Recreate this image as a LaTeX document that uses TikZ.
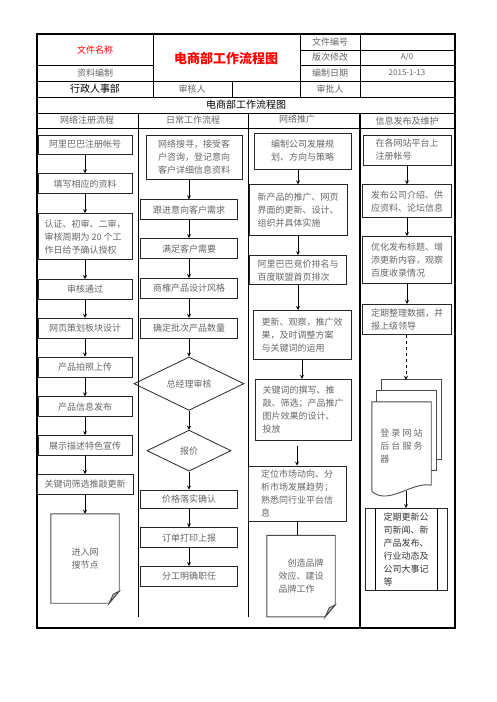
\documentclass[tikz,border=0pt]{standalone}
\usepackage{fontspec}
\setmainfont{Noto Sans CJK SC}
\usepackage{xcolor}
\usepackage{tikz}
\usetikzlibrary{shapes.geometric, arrows, positioning, calc}

\begin{document}
\begin{tikzpicture}[
    x=1pt, y=-1pt,
    node distance=19pt,
    box/.style={draw=black!85, line width=0.8pt, rectangle, minimum height=20pt,
      minimum width=94pt, align=left, inner sep=2pt, text=black!60,
      font=\fontsize{9}{13}\selectfont},
    dec/.style={draw=black!85, line width=0.8pt, diamond, inner sep=0pt,
      text=black!60, font=\fontsize{9}{13}\selectfont},
    doc/.style={align=left, inner sep=2pt, text=black!60, font=\fontsize{9}{13}\selectfont},
    docline/.style={draw=black!70, line width=0.9pt},
    head/.style={text=black!60, font=\fontsize{9}{11}\selectfont},
    thinrule/.style={line width=0.8pt},
    lanerule/.style={line width=0.6pt},
    thickrule/.style={line width=1.6pt},
    arrow/.style={->,>=stealth, line width=0.8pt}
]
\useasboundingbox (0,0) rectangle (496,702);

% header table
\draw[thinrule] (300,50) -- (455,50);
\draw[thinrule] (37,65) -- (153,65) (300,65) -- (455,65);
\draw[thinrule] (37,81) -- (455,81) (37,97) -- (455,97) (37,113) -- (455,113) (37,128) -- (455,128);
\draw[thinrule] (153,34) -- (153,97) (300,34) -- (300,97) (360,34) -- (360,97) (232,81) -- (232,97);
\draw[lanerule] (138,113) -- (138,617) (248,113) -- (248,617);
\draw[thickrule] (360,113) -- (360,628);
\draw[thickrule] (37,34) rectangle (455,628);

\node[text=red, font=\fontsize{9}{11}\selectfont] (fname) at (95,50) {文件名称};
\node[head] (compile) at (95,73) {资料编制};
\node[text=red, font=\fontsize{13}{15}\selectfont\bfseries] (title) at (226,58) {电商部工作流程图};
\node[head] (fileno) at (330,42) {文件编号};
\node[head] (rev) at (330,57) {版次修改};
\node[head, font=\fontsize{8}{10}\selectfont] (revval) at (407,57) {A/0};
\node[head] (date) at (330,73) {编制日期};
\node[head, font=\fontsize{8}{10}\selectfont] (dateval) at (407,73) {2015-1-13};
\node[head, text=black, font=\fontsize{10}{12}\selectfont] (dept) at (95,89) {行政人事部};
\node[head] (check) at (192,89) {审核人};
\node[head] (approve) at (330,89) {审批人};
\node[head, text=black, font=\fontsize{10}{12}\selectfont] (sub) at (246,105) {电商部工作流程图};
\node[head] (lane1) at (87,120) {网络注册流程};
\node[head] (lane2) at (193,120) {日常工作流程};
\node[head] (lane3) at (297,119) {网络推广};
\node[head] (lane4) at (407,121) {信息发布及维护};

% lane 1
\node[box, minimum height=19pt] (reg1) at (85,144.5) {阿里巴巴注册帐号};
\node[box, below=of reg1] (reg2) {填写相应的资料};
\node[box, below=of reg2, minimum height=46pt] (reg3) {认证、初审、二审，\\审核周期为 20 个工\\作日给予确认授权};
\node[box, below=of reg3] (reg4) {审核通过};
\node[box, below=18pt of reg4] (reg5) {网页策划板块设计};
\node[box, below=18pt of reg5] (reg6) {产品拍照上传};
\node[box, below=of reg6] (reg7) {产品信息发布};
\node[box, below=18pt of reg7] (reg8) {展示描述特色宣传};
\node[box, below=18pt of reg8, minimum width=96pt] (reg9) {关键词筛选推敲更新};
\node[doc, below=of reg9, minimum width=68pt, minimum height=89pt] (reg10) {进入网\\搜节点};

% lane 2
\node[box, minimum width=96pt, minimum height=44pt] (day1) at (194,157) {网络搜寻，接受客\\户咨询，登记意向\\客户详细信息资料};
\node[box, minimum width=97pt, below=20pt of day1, xshift=-5pt] (day2) {跟进意向客户需求};
\node[box, minimum width=97pt, below=18pt of day2] (day3) {满足客户需要};
\node[box, minimum width=97pt, below=of day3] (day4) {商榷产品设计风格};
\node[box, minimum width=97pt, below=of day4] (day5) {确定批次产品数量};
\node[dec, below=18pt of day5, minimum width=110pt, minimum height=46pt] (chk) {总经理审核};
\node[dec, below=of chk, minimum width=84pt, minimum height=41pt] (quote) {报价};
\node[box, minimum width=97pt, minimum height=18pt, below=18pt of quote] (day6) {价格落实确认};
\node[box, minimum width=97pt, below=of day6] (day7) {订单打印上报};
\node[box, minimum width=97pt, below=18pt of day7] (day8) {分工明确职任};

% lane 3
\node[box, minimum width=97pt, minimum height=36pt] (pro1) at (302.5,151) {编制公司发展规\\划、方向与策略};
\node[box, minimum width=98pt, minimum height=51pt, below=15pt of pro1, xshift=-4.5pt] (pro2) {新产品的推广、网页\\界面的更新、设计、\\组织并具体实施};
\node[box, minimum width=97pt, minimum height=29pt, below=of pro2] (pro3) {阿里巴巴竞价排名与\\百度联盟首页排次};
\node[box, minimum width=98pt, minimum height=49pt, below=25pt of pro3, xshift=4pt] (pro4) {更新、观察，推广效\\果，及时调整方案\\与关键词的运用};
\node[box, minimum width=96pt, minimum height=61pt, below=of pro4, xshift=1pt] (pro5) {关键词的撰写、推\\敲、筛选；产品推广\\图片效果的设计、\\投放};
\node[box, minimum width=98pt, minimum height=55pt, below=25pt of pro5, xshift=-6pt] (pro6) {定位市场动向、分\\析市场发展趋势；\\熟悉同行业平台信\\息};
\node[doc, minimum width=68pt, minimum height=81pt, below=14pt of pro6, xshift=4pt] (pro7) {\hspace*{1em}创造品牌\\效应、建设\\品牌工作};

% lane 4
\node[box, minimum width=88pt, minimum height=30pt] (inf1) at (407,150) {在各网站平台上\\注册帐号};
\node[box, minimum width=89pt, minimum height=33pt, below=of inf1] (inf2) {发布公司介绍、供\\应资料、论坛信息};
\node[box, minimum width=89pt, minimum height=47pt, below=18pt of inf2] (inf3) {优化发布标题、增\\添更新内容，观察\\百度收录情况};
\node[box, minimum width=89pt, minimum height=30pt, below=20pt of inf3] (inf4) {定期整理数据，并\\报上级领导};
\node[doc, minimum width=59pt, minimum height=89pt, below=67pt of inf4, xshift=-5.5pt] (inf5) {登 录 网 站\\后 台 服 务\\器};
\node[box, minimum width=82pt, minimum height=82pt, below=17pt of inf5, xshift=4.5pt, text=black!80] (inf6) {定期更新公\\司新闻、新\\产品发布、\\行业动态及\\公司大事记\\等};
\coordinate (stacktop) at ([shift={(4.5,-22)}]inf5.north);

% document outlines
\draw[docline] (reg10.north west) -- (reg10.north east) -- ([shift={(0,-12)}]reg10.south east) -- ([shift={(-10,0)}]reg10.south east) -- (reg10.south west) -- cycle;
\filldraw[docline, fill=black!25] ([shift={(0,-12)}]reg10.south east) -- ([shift={(-10,0)}]reg10.south east) -- ([shift={(-6,-9)}]reg10.south east) -- cycle;
\draw[docline] (pro7.north west) -- (pro7.north east) -- ([shift={(0,-12)}]pro7.south east) -- ([shift={(-10,0)}]pro7.south east) -- (pro7.south west) -- cycle;
\filldraw[docline, fill=black!25] ([shift={(0,-12)}]pro7.south east) -- ([shift={(-10,0)}]pro7.south east) -- ([shift={(-6,-9)}]pro7.south east) -- cycle;
\draw[docline] ([shift={(10,-11)}]inf5.north west) -- ([shift={(10,-22)}]inf5.north west) -- ([shift={(10,-22)}]inf5.north east) -- ([shift={(10,-32)}]inf5.south east) -- ([shift={(5,-32)}]inf5.south east);
\draw[docline] ([shift={(5,0)}]inf5.north west) -- ([shift={(5,-11)}]inf5.north west) -- ([shift={(5,-11)}]inf5.north east) -- ([shift={(5,-21)}]inf5.south east) -- ([shift={(0,-21)}]inf5.south east);
\draw[docline] (inf5.south west) -- (inf5.north west) -- (inf5.north east) -- ([shift={(0,-6)}]inf5.south east) .. controls ([shift={(-19,-10)}]inf5.south east) and ([shift={(16,15)}]inf5.south west) .. (inf5.south west);
\draw[thinrule] ([xshift=11pt]inf6.north west) -- ([xshift=11pt]inf6.south west) ([xshift=-10pt]inf6.north east) -- ([xshift=-10pt]inf6.south east);

% connectors
\draw[arrow] (reg1) -- (reg2);
\draw[arrow] (reg2) -- (reg3);
\draw[arrow] (reg3) -- (reg4);
\draw[arrow] (reg4) -- (reg5);
\draw[arrow] (reg5) -- (reg6);
\draw[arrow] (reg6) -- (reg7);
\draw[arrow] (reg7) -- (reg8);
\draw[arrow] (reg8) -- (reg9);
\draw[arrow] (reg9) -- (reg10);

\draw[arrow] (day1.south -| day2) -- (day2);
\draw[arrow] (day2) -- (day3);
\draw[arrow] (day3) -- (day4);
\draw[arrow] (day4) -- (day5);
\draw[arrow] (day5) -- (chk);
\draw[arrow] (chk) -- (quote);
\draw[arrow] (quote) -- (day6);
\draw[arrow] (day6) -- (day7);
\draw[arrow] (day7) -- (day8);

\draw[arrow] (pro1.south -| pro2) -- (pro2);
\draw[arrow] (pro2) -- (pro2 |- pro3.north);
\draw[arrow] (pro3) -- (pro3 |- pro4.north);
\draw[arrow] (pro4) -- (pro4 |- pro5.north);
\draw[arrow] ([yshift=-5pt]pro5.south -| pro6) -- (pro6);
\draw[thinrule] (pro6) -- (pro6 |- pro7.north);

\draw[arrow] (inf1) -- (inf2);
\draw[arrow] (inf2) -- (inf3);
\draw[arrow] (inf3) -- (inf4);
\draw[arrow, dashed] (inf4.south -| stacktop) -- (stacktop);
\draw[arrow] (inf5.south -| inf6) -- (inf6);
\end{tikzpicture}
\end{document}
